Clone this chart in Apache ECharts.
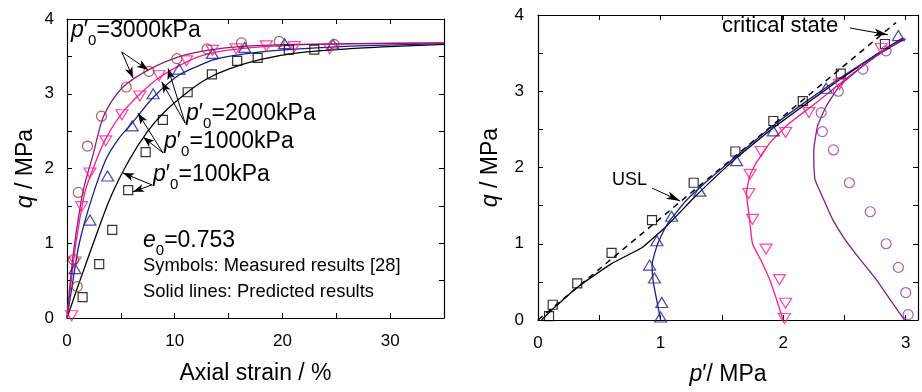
<!DOCTYPE html>
<html>
<head>
<meta charset="utf-8">
<script src="https://cdn.jsdelivr.net/npm/echarts@6/dist/echarts.min.js"></script>
<style>
  html, body { margin: 0; padding: 0; background: #fff; }
  #chart { width: 922px; height: 392px; }
</style>
</head>
<body>
<div id="chart"></div>
<script>
// ---------- Left panel: deviator stress q vs axial strain ----------
// measured points [axial strain %, q MPa]
const meas3000 = [[0.6,0.78],[0.95,0.42],[1.05,1.68],[1.9,2.3],[3.2,2.7],[5.5,3.09],[7.6,3.3],[10.2,3.47],[13,3.6],[16.2,3.68],[19.7,3.7],[24.8,3.66]];
const meas2000 = [[0.43,0.03],[0.74,0.75],[1.36,1.49],[2.13,1.94],[3.6,2.37],[5.1,2.72],[6.76,2.97],[8.55,3.24],[11.1,3.44],[13.5,3.58],[15.7,3.6],[18.5,3.64],[21.1,3.63],[24.4,3.6]];
const meas1000 = [[0.74,0.66],[2.13,1.31],[3.77,1.9],[6.05,2.57],[8.0,3.0],[10.4,3.33],[13.5,3.54],[16.5,3.62],[20.2,3.67],[24.7,3.66]];
const meas100  = [[1.45,0.28],[2.99,0.72],[4.2,1.18],[5.68,1.71],[7.3,2.22],[8.9,2.65],[11.2,3.02],[13.45,3.26],[15.8,3.44],[17.7,3.48],[20.6,3.59],[22.96,3.59]];
// predicted curves
const pred3000 = [[0,0],[0.35,0.55],[0.71,1.0],[1.5,1.7],[2.45,2.2],[3.4,2.7],[5.2,3.09],[7.7,3.33],[10.5,3.5],[13,3.58],[16,3.63],[21,3.66],[27,3.67],[35,3.68]];
const pred2000 = [[0,0],[0.4,0.5],[0.83,1.0],[1.7,1.7],[2.75,2.12],[3.6,2.4],[5.1,2.74],[6.8,3.0],[8.6,3.22],[11,3.42],[13,3.53],[16,3.6],[21,3.65],[27,3.67],[35,3.68]];
const pred1000 = [[0,0],[0.5,0.45],[1.14,1.0],[2.3,1.6],[3.61,2.12],[4.8,2.4],[6,2.6],[8,2.95],[10.4,3.25],[12.3,3.38],[13.5,3.45],[15,3.5],[18,3.56],[21.6,3.6],[27,3.64],[35,3.67]];
const pred100  = [[0,0],[1.2,0.5],[2.44,1.0],[4,1.6],[5.8,2.12],[7.5,2.5],[9,2.75],[11,3.0],[13,3.2],[15,3.33],[18,3.46],[21.6,3.55],[26,3.6],[30,3.63],[35,3.66]];

// ---------- Right panel: stress paths in p'-q plane ----------
const path100m  = [[0.09,0.05],[0.12,0.2],[0.32,0.48],[0.6,0.88],[0.93,1.31],[1.27,1.8],[1.61,2.21],[1.92,2.61],[2.16,2.87],[2.47,3.23],[2.83,3.62]];
const path1000m = [[1.0,0.04],[1.01,0.23],[0.95,0.55],[0.91,0.72],[0.97,1.04],[1.09,1.36],[1.32,1.69],[1.62,2.09],[1.92,2.48],[2.35,3.04],[2.94,3.73]];
const path2000m = [[2.01,0.02],[2.02,0.22],[1.97,0.53],[1.86,0.93],[1.75,1.32],[1.72,1.66],[1.73,1.91],[1.82,2.21],[2.02,2.46],[2.21,2.72],[2.46,3.09],[2.80,3.56]];
const path3000m = [[3.02,0.07],[3.0,0.36],[2.94,0.69],[2.84,1.0],[2.71,1.42],[2.54,1.80],[2.41,2.23],[2.32,2.47],[2.31,2.72],[2.45,3.0],[2.65,3.29],[2.84,3.53]];
const path100p  = [[0.03,0],[0.125,0.15],[0.33,0.44],[0.6,0.74],[0.85,0.95],[1.06,1.25],[1.27,1.6],[1.6,2.1],[1.92,2.52],[2.2,2.85],[2.46,3.15],[2.75,3.47],[2.97,3.69]];
const path1000p = [[1.0,0],[0.97,0.25],[0.94,0.5],[0.93,0.72],[0.96,0.92],[0.99,1.05],[1.06,1.27],[1.2,1.55],[1.35,1.78],[1.62,2.15],[1.92,2.55],[2.2,2.88],[2.46,3.17],[2.75,3.47],[2.98,3.7]];
const path2000p = [[2.0,0],[1.95,0.25],[1.89,0.53],[1.82,0.78],[1.75,1.0],[1.72,1.4],[1.70,1.66],[1.73,1.9],[1.78,2.06],[1.89,2.32],[2.05,2.58],[2.27,2.85],[2.54,3.2],[2.76,3.46],[2.98,3.68]];
const path3000p = [[2.99,0],[2.88,0.25],[2.76,0.53],[2.6,0.85],[2.49,1.09],[2.4,1.33],[2.33,1.58],[2.26,1.84],[2.25,2.05],[2.25,2.23],[2.28,2.54],[2.35,2.8],[2.46,3.07],[2.65,3.33],[2.84,3.55],[3.0,3.69]];
const criticalLine = [[0,0],[2.92,3.9]];

// annotation arrows [from, to] in data units
const leftArrows = [
  [[5.08,3.56],[6.13,3.21]], [[5.08,3.56],[7.52,3.32]],
  [[10.96,2.61],[8.79,3.16]], [[10.96,2.61],[9.38,3.34]],
  [[8.91,2.21],[6.59,2.74]], [[8.91,2.21],[7.06,2.42]],
  [[7.89,1.78],[5.2,1.94]], [[7.89,1.78],[6.13,1.69]]
];
const rightArrows = [
  [[0.93,1.73],[1.16,1.56]],
  [[2.545,3.83],[2.855,3.74]]
];

const FONT = "'Liberation Sans', Arial, sans-serif";
const C_BLACK = '#000000', C_NAVY = '#1c1c96', C_PINK = '#ff1a8c', C_PURPLE = '#8b1a89';
const C_CIRC_L = '#a3352f', C_CIRC_R = '#9b359b';

const chart = echarts.init(document.getElementById('chart'), null, { renderer: 'canvas' });

function axisBase(extra) {
  return Object.assign({
    axisLine: { show: true, onZero: false, lineStyle: { color: '#000', width: 1.2 } },
    axisTick: { show: true, inside: true, length: 5, lineStyle: { color: '#000', width: 1 } },
    splitLine: { show: false },
    axisLabel: { show: false }
  }, extra);
}
const labelStyle = { show: true, color: '#000', fontSize: 17, fontFamily: FONT };
const nameStyle = {
  color: '#000', fontSize: 23, fontFamily: FONT,
  rich: {
    i: { fontStyle: 'italic', fontSize: 23, fontFamily: FONT, color: '#000' },
    n: { fontSize: 23, fontFamily: FONT, color: '#000' }
  }
};
const intOnly = v => (Math.abs(v - Math.round(v)) < 1e-9 ? String(Math.round(v)) : '');

function scatter(data, xi, yi, symbol, size, color, rotate) {
  return {
    type: 'scatter', xAxisIndex: xi, yAxisIndex: yi, data: data,
    symbol: symbol, symbolSize: size, symbolRotate: rotate || 0,
    itemStyle: { color: 'rgba(0,0,0,0)', borderColor: color, borderWidth: 1.2 },
    z: 3, silent: true
  };
}
function curve(data, xi, yi, color, extra) {
  return Object.assign({
    type: 'line', xAxisIndex: xi, yAxisIndex: yi, data: data,
    showSymbol: false, symbol: 'none', smooth: 0.3,
    lineStyle: { color: color, width: 1.3 }, z: 2, silent: true
  }, extra || {});
}
function arrows(list, size) {
  return {
    silent: true, animation: false,
    symbol: ['none', 'arrow'], symbolSize: size,
    label: { show: false },
    lineStyle: { color: '#000', width: 1, type: 'solid' },
    emphasis: { disabled: true },
    data: list.map(a => [{ coord: a[0] }, { coord: a[1] }])
  };
}

const pRich = {
  i: { fontStyle: 'italic', fontSize: 23, fontFamily: FONT, padding: [0, 0, 6, 0], verticalAlign: 'bottom' },
  n: { fontSize: 23, fontFamily: FONT, padding: [0, 0, 6, 0], verticalAlign: 'bottom' },
  s: { fontSize: 15, fontFamily: FONT, verticalAlign: 'bottom' }
};
function pLabel(text, left, top) {
  return { type: 'text', left: left, top: top, silent: true,
    style: { text: '{i|p}{n|\u2032}{s|0}{n|=' + text + '}', rich: pRich, fill: '#000' } };
}

chart.setOption({
  animation: false,
  backgroundColor: '#ffffff',
  grid: [
    { left: 67, top: 19, width: 377, height: 299 },
    { left: 538, top: 15, width: 380, height: 305 }
  ],
  xAxis: [
    axisBase({ gridIndex: 0, type: 'value', position: 'bottom', min: 0, max: 35, interval: 5,
      axisLabel: Object.assign({}, labelStyle, { margin: 15, formatter: v => (v % 10 === 0 ? String(v) : '') }),
      name: 'Axial strain / %', nameLocation: 'middle', nameGap: 44, nameTextStyle: nameStyle }),
    axisBase({ gridIndex: 0, type: 'value', position: 'top', min: 0, max: 35, interval: 5 }),
    axisBase({ gridIndex: 1, type: 'value', position: 'bottom', min: 0, max: 3.1, interval: 0.5,
      axisLabel: Object.assign({}, labelStyle, { margin: 15, formatter: intOnly }),
      name: '{i|p}{n|\u2032/ MPa}', nameLocation: 'middle', nameGap: 43, nameTextStyle: nameStyle }),
    axisBase({ gridIndex: 1, type: 'value', position: 'top', min: 0, max: 3.1, interval: 0.5 })
  ],
  yAxis: [
    axisBase({ gridIndex: 0, type: 'value', position: 'left', min: 0, max: 4, interval: 0.5,
      axisLabel: Object.assign({}, labelStyle, { margin: 13, formatter: intOnly }),
      name: '{i|q}{n| / MPa}', nameLocation: 'middle', nameGap: 30, nameRotate: 90, nameTextStyle: nameStyle }),
    axisBase({ gridIndex: 0, type: 'value', position: 'right', min: 0, max: 4, interval: 0.5 }),
    axisBase({ gridIndex: 1, type: 'value', position: 'left', min: 0, max: 4, interval: 0.5,
      axisLabel: Object.assign({}, labelStyle, { margin: 14, formatter: intOnly }),
      name: '{i|q}{n| / MPa}', nameLocation: 'middle', nameGap: 36, nameRotate: 90, nameTextStyle: nameStyle }),
    axisBase({ gridIndex: 1, type: 'value', position: 'right', min: 0, max: 4, interval: 0.5 })
  ],
  series: [
    // left panel
    curve(pred100, 0, 0, C_BLACK, { markLine: arrows(leftArrows, [6, 11]) }),
    curve(pred1000, 0, 0, C_NAVY),
    curve(pred2000, 0, 0, C_PINK),
    curve(pred3000, 0, 0, C_PURPLE),
    scatter(meas100, 0, 0, 'rect', 9, C_BLACK),
    scatter(meas1000, 0, 0, 'triangle', [12, 10], C_NAVY),
    scatter(meas2000, 0, 0, 'triangle', [12, 10], C_PINK, 180),
    scatter(meas3000, 0, 0, 'circle', 10, C_CIRC_L),
    // right panel
    curve(criticalLine, 2, 2, C_BLACK, { smooth: false, lineStyle: { color: '#000', width: 1.5, type: [6, 5] },
      markLine: arrows(rightArrows, [6, 14]) }),
    curve(path100p, 2, 2, C_BLACK, { smooth: 0.12 }),
    curve(path1000p, 2, 2, C_NAVY, { smooth: 0.12 }),
    curve(path2000p, 2, 2, C_PINK, { smooth: 0.12 }),
    curve(path3000p, 2, 2, C_PURPLE, { smooth: 0.12 }),
    scatter(path100m, 2, 2, 'rect', 9, C_BLACK),
    scatter(path1000m, 2, 2, 'triangle', [12, 10], C_NAVY),
    scatter(path2000m, 2, 2, 'triangle', [12, 10], C_PINK, 180),
    scatter(path3000m, 2, 2, 'circle', 10, C_CIRC_R)
  ],
  graphic: [
    pLabel('3000kPa', 71, 19),
    pLabel('2000kPa', 186, 102),
    pLabel('1000kPa', 164, 130),
    pLabel('100kPa', 153, 163),
    { type: 'text', left: 143, top: 229, silent: true,
      style: { text: '{i|e}{s|0}{n|=0.753}', fill: '#000',
        rich: {
          i: { fontStyle: 'italic', fontSize: 23, fontFamily: FONT, padding: [0, 0, 6, 0], verticalAlign: 'bottom' },
          n: { fontSize: 23, fontFamily: FONT, padding: [0, 0, 6, 0], verticalAlign: 'bottom' },
          s: { fontSize: 15, fontFamily: FONT, verticalAlign: 'bottom' }
        } } },
    { type: 'text', left: 143, top: 257, silent: true,
      style: { text: 'Symbols: Measured results [28]', fontSize: 18.4, fontFamily: FONT, fill: '#000' } },
    { type: 'text', left: 143, top: 283, silent: true,
      style: { text: 'Solid lines: Predicted results', fontSize: 18.4, fontFamily: FONT, fill: '#000' } },
    { type: 'text', left: 612, top: 171, silent: true,
      style: { text: 'USL', fontSize: 18, fontFamily: FONT, fill: '#000' } },
    { type: 'text', left: 722, top: 15, silent: true,
      style: { text: 'critical state', fontSize: 22, fontFamily: FONT, fill: '#000' } }
  ]
});
</script>
</body>
</html>
